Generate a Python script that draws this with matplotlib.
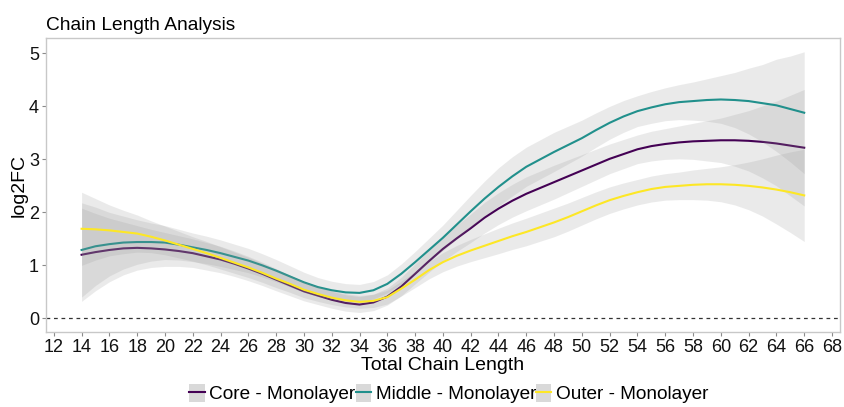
import matplotlib.pyplot as plt
from matplotlib.lines import Line2D
from matplotlib.patches import Patch

plt.rcParams['font.family'] = ['Liberation Sans', 'DejaVu Sans']

# smoothed curves (fit and half-width of the grey band), one value per carbon
chain_length = [14, 15, 16, 17, 18, 19, 20, 21, 22, 23, 24, 25, 26, 27, 28, 29, 30, 31, 32, 33,
                34, 35, 36, 37, 38, 39, 40, 41, 42, 43, 44, 45, 46, 47, 48, 49, 50, 51, 52, 53,
                54, 55, 56, 57, 58, 59, 60, 61, 62, 63, 64, 65, 66]

core_fit = [1.20, 1.25, 1.29, 1.32, 1.33, 1.32, 1.30, 1.27, 1.23, 1.17, 1.11, 1.03, 0.94, 0.84,
            0.73, 0.62, 0.51, 0.43, 0.35, 0.29, 0.26, 0.30, 0.41, 0.60, 0.84, 1.08, 1.31, 1.51,
            1.70, 1.90, 2.07, 2.22, 2.35, 2.46, 2.57, 2.68, 2.79, 2.90, 3.01, 3.10, 3.19, 3.25,
            3.29, 3.32, 3.34, 3.35, 3.36, 3.36, 3.35, 3.33, 3.30, 3.26, 3.22]
core_se = [0.88, 0.73, 0.60, 0.50, 0.42, 0.36, 0.32, 0.29, 0.27, 0.26, 0.25, 0.24, 0.23, 0.22,
           0.21, 0.195, 0.18, 0.17, 0.16, 0.155, 0.15, 0.155, 0.16, 0.175, 0.19, 0.21, 0.23, 0.25,
           0.27, 0.29, 0.30, 0.31, 0.32, 0.32, 0.32, 0.31, 0.30, 0.29, 0.28, 0.275, 0.27, 0.28,
           0.29, 0.31, 0.34, 0.38, 0.42, 0.49, 0.57, 0.68, 0.80, 0.95, 1.10]

middle_fit = [1.29, 1.36, 1.40, 1.43, 1.44, 1.44, 1.43, 1.39, 1.34, 1.29, 1.23, 1.16, 1.09, 1.00,
              0.90, 0.79, 0.68, 0.59, 0.53, 0.49, 0.48, 0.53, 0.65, 0.84, 1.06, 1.29, 1.52, 1.77,
              2.02, 2.26, 2.48, 2.68, 2.86, 3.00, 3.14, 3.27, 3.40, 3.55, 3.69, 3.81, 3.91, 3.98,
              4.04, 4.08, 4.10, 4.12, 4.13, 4.12, 4.10, 4.06, 4.02, 3.95, 3.88]
middle_se = [0.89, 0.74, 0.60, 0.50, 0.42, 0.36, 0.32, 0.29, 0.27, 0.26, 0.25, 0.24, 0.23, 0.22,
             0.21, 0.20, 0.19, 0.18, 0.17, 0.165, 0.16, 0.165, 0.17, 0.185, 0.20, 0.22, 0.24, 0.27,
             0.30, 0.33, 0.36, 0.37, 0.37, 0.37, 0.37, 0.355, 0.34, 0.325, 0.31, 0.30, 0.29, 0.30,
             0.31, 0.33, 0.36, 0.40, 0.45, 0.52, 0.62, 0.73, 0.87, 1.00, 1.15]

outer_fit = [1.69, 1.68, 1.66, 1.63, 1.60, 1.54, 1.47, 1.39, 1.31, 1.23, 1.14, 1.05, 0.96, 0.86,
             0.75, 0.65, 0.54, 0.46, 0.39, 0.34, 0.31, 0.33, 0.40, 0.56, 0.73, 0.91, 1.06, 1.18,
             1.28, 1.37, 1.46, 1.55, 1.63, 1.72, 1.81, 1.91, 2.02, 2.13, 2.23, 2.31, 2.38, 2.44,
             2.48, 2.50, 2.52, 2.53, 2.53, 2.52, 2.50, 2.47, 2.43, 2.38, 2.32]
outer_se = [0.69, 0.58, 0.48, 0.41, 0.35, 0.30, 0.27, 0.25, 0.23, 0.22, 0.21, 0.20, 0.19, 0.18,
            0.17, 0.16, 0.15, 0.14, 0.13, 0.125, 0.12, 0.125, 0.13, 0.14, 0.15, 0.165, 0.18, 0.195,
            0.21, 0.225, 0.24, 0.25, 0.26, 0.265, 0.27, 0.265, 0.26, 0.255, 0.25, 0.245, 0.24, 0.245,
            0.25, 0.26, 0.28, 0.30, 0.33, 0.38, 0.45, 0.54, 0.65, 0.76, 0.87]

labels = ['Core - Monolayer', 'Middle - Monolayer', 'Outer - Monolayer']
colors = ['#440154', '#21908C', '#FDE725']
x_ticks = list(range(12, 69, 2))
y_ticks = [0, 1, 2, 3, 4, 5]

fits = [core_fit, middle_fit, outer_fit]
ses = [core_se, middle_se, outer_se]

fig = plt.figure(figsize=(8.44, 4.07), dpi=100)
ax = fig.add_axes([0.0545, 0.184, 0.9405, 0.7226])

ax.axhline(0, color='#333333', linestyle=(0, (3, 3)), linewidth=0.9, zorder=1)

# ribbon then line per group, like geom_smooth
for fit, se, c in zip(fits, ses, colors):
    lo = [f - s for f, s in zip(fit, se)]
    hi = [f + s for f, s in zip(fit, se)]
    ax.fill_between(chain_length, lo, hi, color='#999999', alpha=0.2, linewidth=0, zorder=2)
    ax.plot(chain_length, fit, color=c, linewidth=1.5, zorder=2)

ax.set_xlim(11.44, 68.56)
ax.set_ylim(-0.26, 5.29)
ax.set_xticks(x_ticks)
ax.set_yticks(y_ticks)
ax.tick_params(labelsize=13, length=3, width=0.8, color='#8a8a8a', pad=2, labelcolor='#111111')
for sp in ax.spines.values():
    sp.set_color('#c8c8c8')
    sp.set_linewidth(1.0)

ax.set_xlabel('Total Chain Length', fontsize=14, labelpad=1)
ax.set_ylabel('log2FC', fontsize=14, labelpad=1)
ax.set_title('Chain Length Analysis', loc='left', fontsize=13.8, pad=6)

handles = [(Patch(facecolor='#d9d9d9', edgecolor='none'), Line2D([], [], color=c, linewidth=1.5))
           for c in colors]
fig.legend(handles, labels, loc='lower center', bbox_to_anchor=(0.532, -0.033), ncol=3,
           frameon=False, fontsize=13.7, handlelength=0.8, handleheight=1.1,
           handletextpad=0.25, columnspacing=0.0)

fig.savefig('out.png', dpi=100)
